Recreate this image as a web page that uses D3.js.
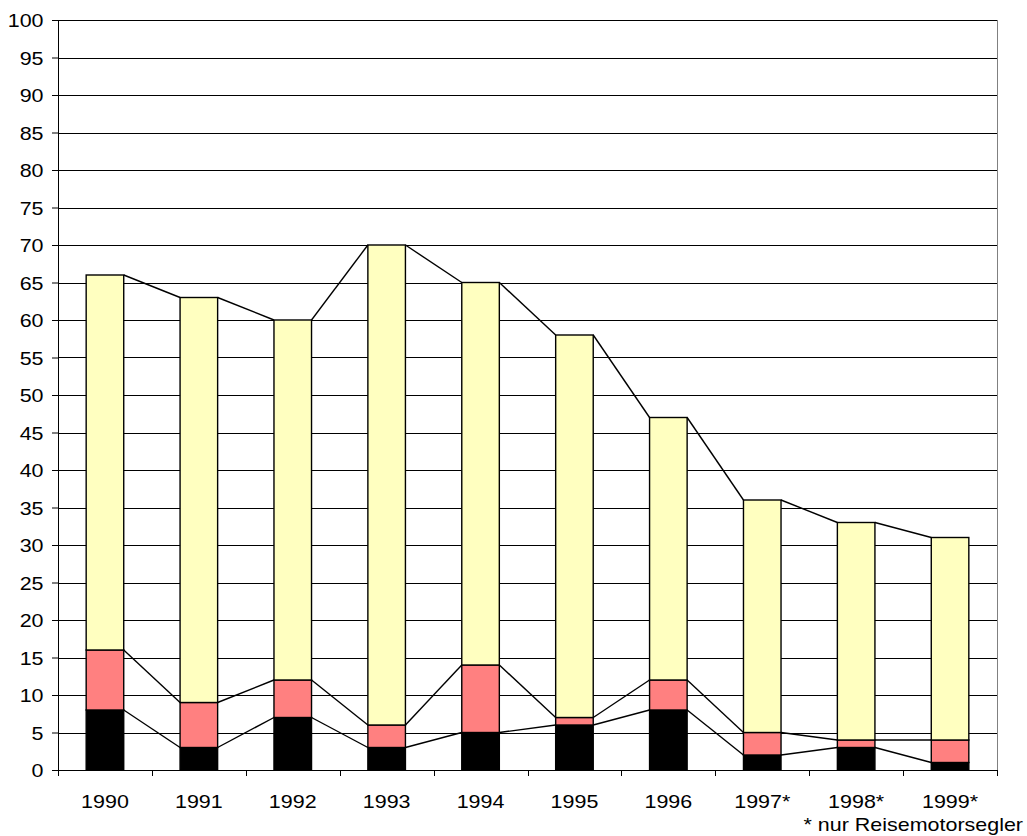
<!DOCTYPE html>
<html>
<head>
<meta charset="utf-8">
<script src="https://cdn.jsdelivr.net/npm/d3@7"></script>
<style>
  body { margin: 0; background: #fff; }
  text { font-family: "Liberation Sans", Arial, sans-serif; fill: #000; }
</style>
</head>
<body>
<svg id="chart" width="1027" height="836"></svg>
<script>
// chart data
var years = ['1990', '1991', '1992', '1993', '1994', '1995', '1996', '1997*', '1998*', '1999*'];
var black = [8, 3, 7, 3, 5, 6, 8, 2, 3, 1];
var pink = [8, 6, 5, 3, 9, 1, 4, 3, 1, 3];
var yellow = [50, 54, 48, 64, 51, 51, 35, 31, 29, 27];
var yTicks = d3.range(0, 101, 5);
var footnote = '* nur Reisemotorsegler';

var colors = ['#000000', '#ff8080', '#ffffc0'];
var sx = 1.13; // labels in the original are a bit stretched sideways

var svg = d3.select('#chart');
var margin = { left: 58, right: 30, top: 20, bottom: 66 };
var width = 1027 - margin.left - margin.right;
var height = 836 - margin.top - margin.bottom;

var g = svg.append('g')
  .attr('transform', 'translate(' + margin.left + ',' + margin.top + ')');

var x = d3.scaleBand()
  .domain(years)
  .range([0, width])
  .paddingInner(0.6)
  .paddingOuter(0.3);

var y = d3.scaleLinear()
  .domain([0, 100])
  .range([height, 0]);

var table = years.map(function (yr, i) {
  return { year: yr, black: black[i], pink: pink[i], yellow: yellow[i] };
});
var stack = d3.stack().keys(['black', 'pink', 'yellow']);
var layers = stack(table);

// gridlines
g.append('g')
  .selectAll('line')
  .data(yTicks.filter(function (d) { return d > 0; }))
  .enter().append('line')
  .attr('x1', 0)
  .attr('x2', width)
  .attr('y1', function (d) { return Math.round(y(d)) + 0.5; })
  .attr('y2', function (d) { return Math.round(y(d)) + 0.5; })
  .attr('stroke', '#000')
  .attr('stroke-width', 1);

// right border of plot
g.append('line')
  .attr('x1', width + 0.5).attr('x2', width + 0.5)
  .attr('y1', 0).attr('y2', height)
  .attr('stroke', '#808080');

// bars
layers.forEach(function (layer, k) {
  g.append('g')
    .selectAll('rect')
    .data(layer)
    .enter().append('rect')
    .attr('x', function (d) { return x(d.data.year); })
    .attr('width', x.bandwidth())
    .attr('y', function (d) { return y(d[1]); })
    .attr('height', function (d) { return y(d[0]) - y(d[1]); })
    .attr('fill', colors[k])
    .attr('stroke', '#000')
    .attr('stroke-width', 1.4);
});

// series lines between bars
layers.forEach(function (layer) {
  var segs = layer.slice(0, -1).map(function (d, i) {
    var n = layer[i + 1];
    return {
      x1: x(d.data.year) + x.bandwidth(), y1: y(d[1]),
      x2: x(n.data.year), y2: y(n[1])
    };
  });
  g.append('g')
    .selectAll('line')
    .data(segs)
    .enter().append('line')
    .attr('x1', function (d) { return d.x1; })
    .attr('y1', function (d) { return d.y1; })
    .attr('x2', function (d) { return d.x2; })
    .attr('y2', function (d) { return d.y2; })
    .attr('stroke', '#000')
    .attr('stroke-width', 1.4);
});

// y axis
var yAxis = g.append('g')
  .call(d3.axisLeft(y).tickValues(yTicks).tickSize(6).tickPadding(6));
yAxis.select('.domain').attr('stroke', '#000');
yAxis.selectAll('.tick line').attr('stroke', '#000');
yAxis.selectAll('.tick text')
  .style('font-size', '19px')
  .attr('x', -14.5 / sx)
  .attr('transform', 'scale(' + sx + ',1)')
  .attr('dy', '0.36em');

// x axis with ticks at category boundaries
var xAxisG = g.append('g')
  .attr('transform', 'translate(0,' + height + ')');
xAxisG.append('line')
  .attr('x1', 0).attr('x2', width)
  .attr('y1', 0.5).attr('y2', 0.5)
  .attr('stroke', '#000');
var step = x.step();
var bounds = d3.range(0, years.length + 1).map(function (i) { return i * step; });
xAxisG.selectAll('.xt')
  .data(bounds)
  .enter().append('line')
  .attr('class', 'xt')
  .attr('x1', function (d) { return Math.round(d) + 0.5; })
  .attr('x2', function (d) { return Math.round(d) + 0.5; })
  .attr('y1', 0)
  .attr('y2', 6)
  .attr('stroke', '#000');
xAxisG.selectAll('.xl')
  .data(years)
  .enter().append('text')
  .attr('class', 'xl')
  .attr('text-anchor', 'middle')
  .attr('transform', function (d) {
    return 'translate(' + (x(d) + x.bandwidth() / 2) + ',38) scale(' + sx + ',1)';
  })
  .style('font-size', '19px')
  .text(function (d) { return d; });

svg.append('text')
  .attr('text-anchor', 'end')
  .attr('transform', 'translate(1023,831) scale(' + sx + ',1)')
  .style('font-size', '19px')
  .text(footnote);
</script>
</body>
</html>
